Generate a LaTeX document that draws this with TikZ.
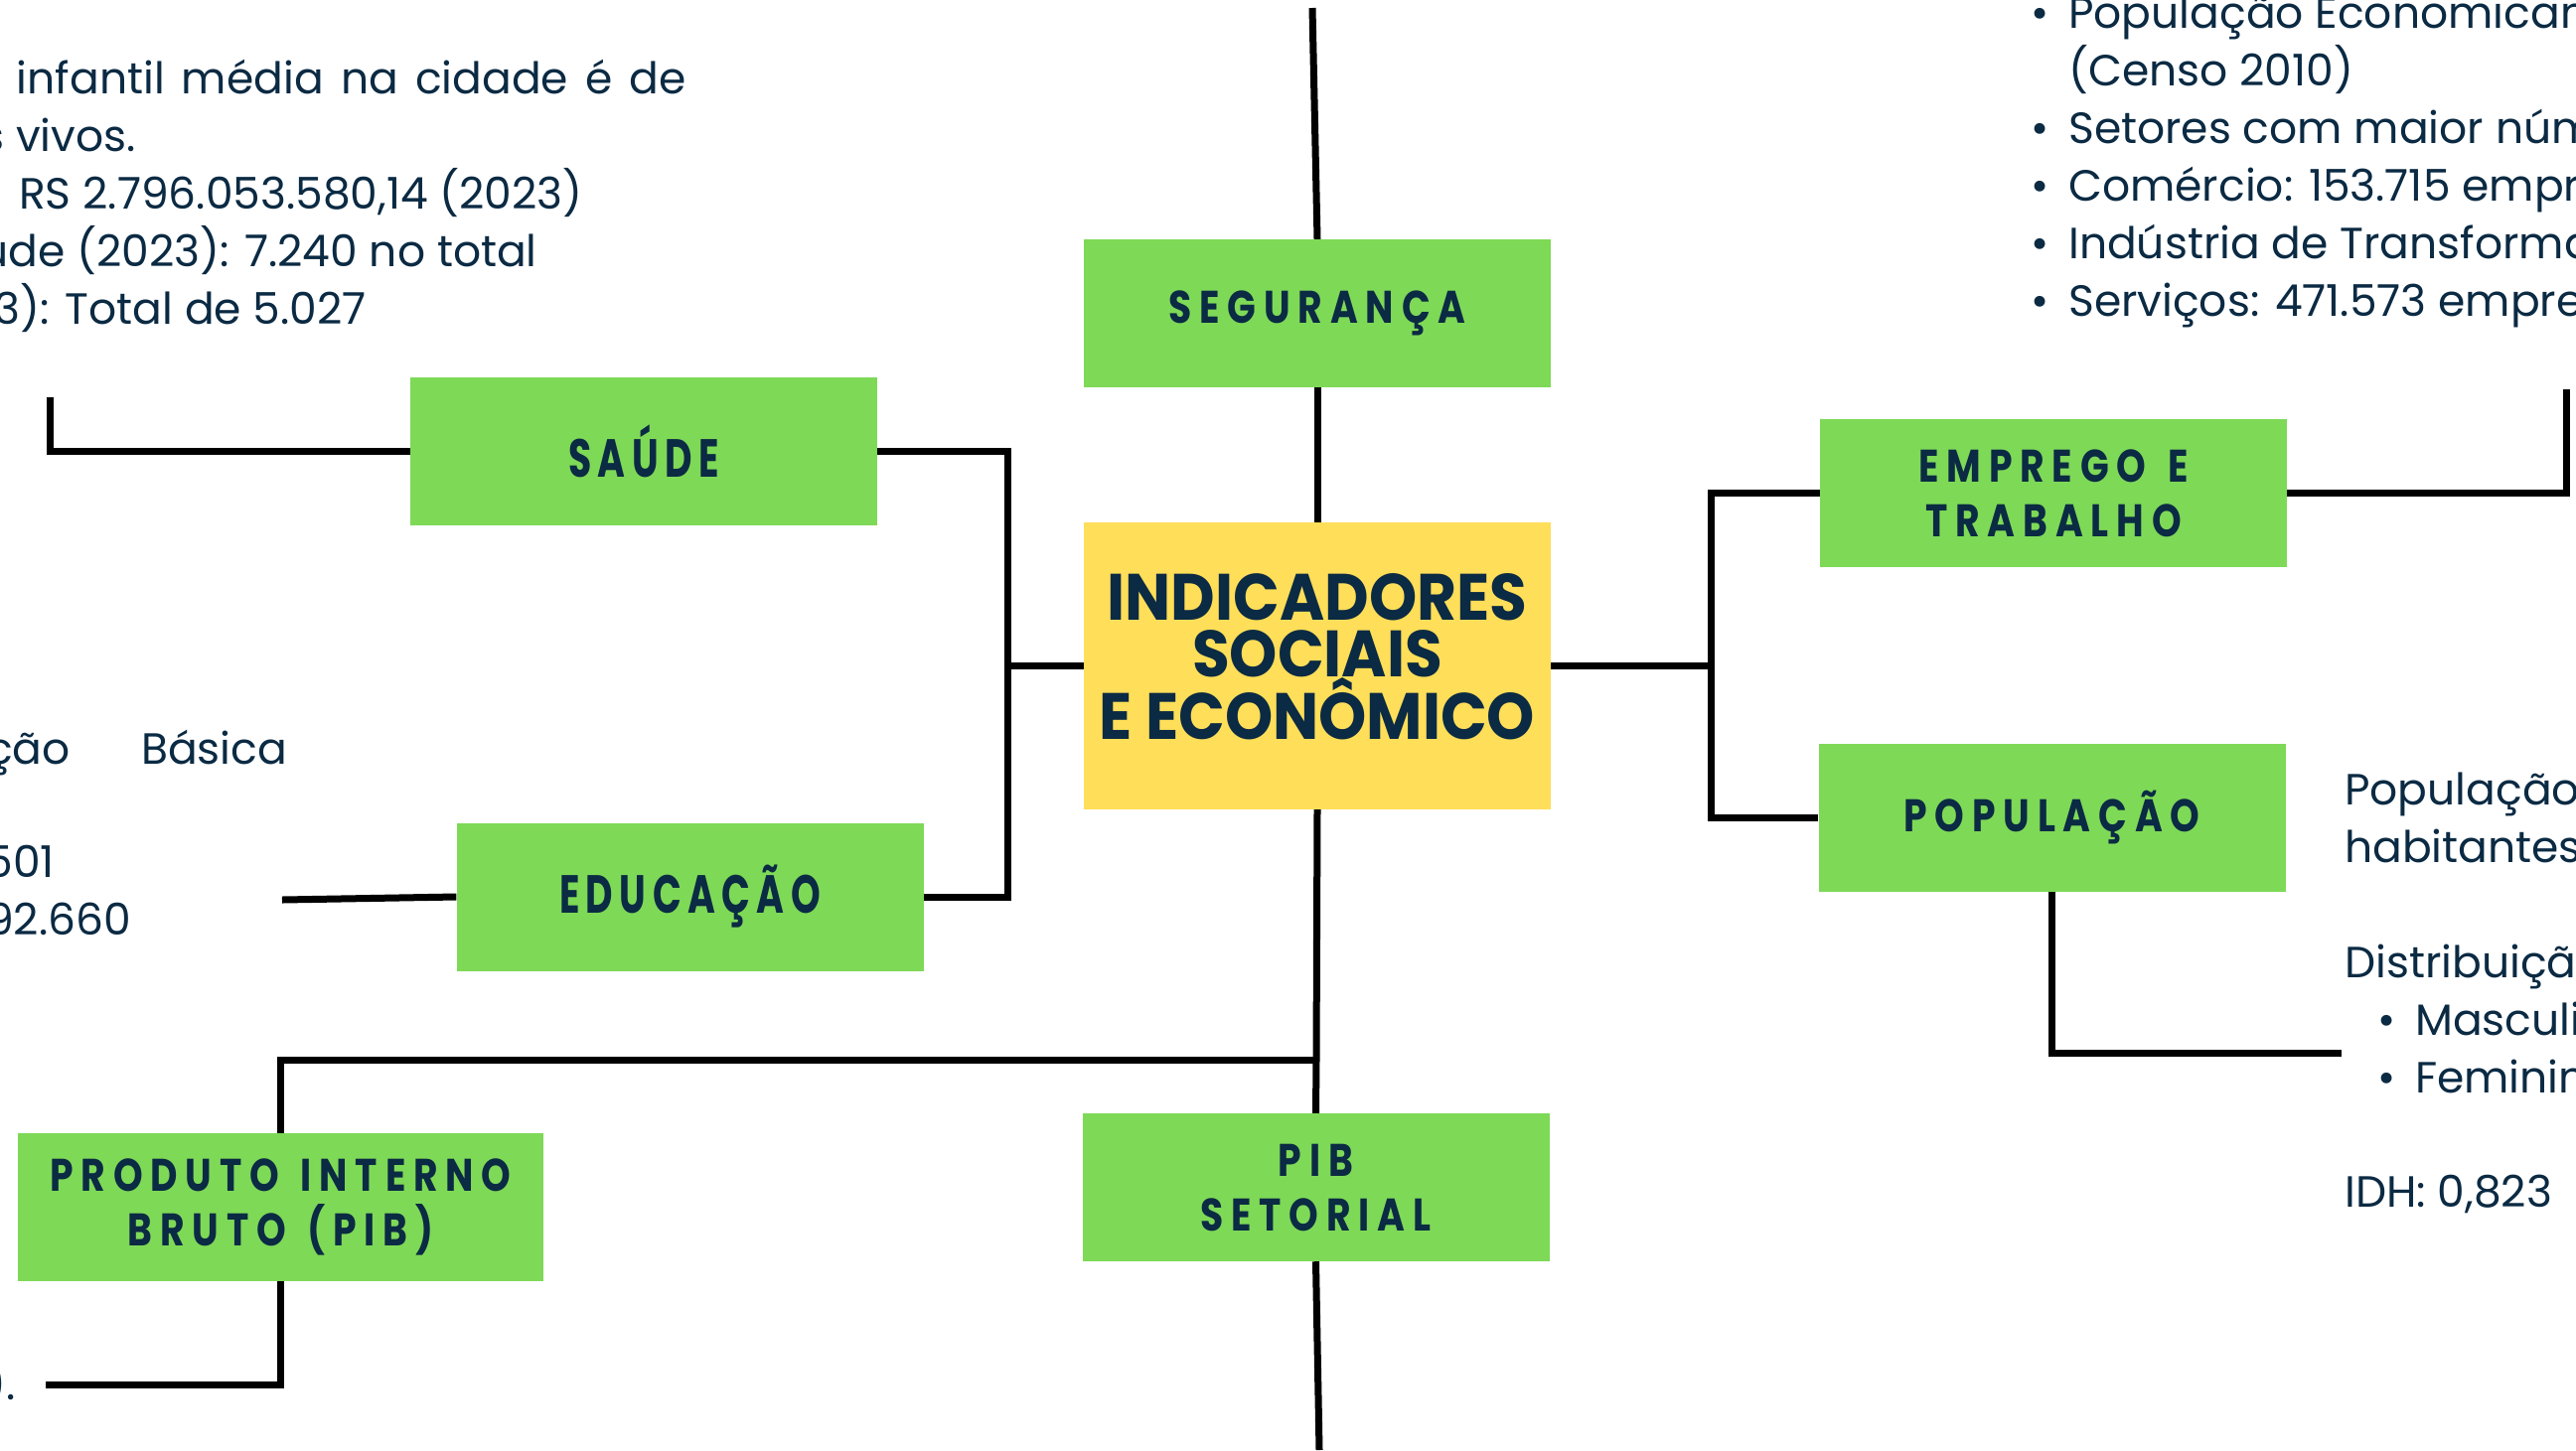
\documentclass[tikz,border=0pt]{standalone}
\usepackage{fontspec}
\setmainfont{Poppins}
\newfontfamily\labfont[FakeStretch=0.82,LetterSpace=17]{Poppins}
\newfontfamily\condfont[FakeStretch=0.7,LetterSpace=12]{Poppins}
\newfontfamily\titfont[FakeStretch=0.93]{Poppins}
\definecolor{navy}{HTML}{0B2A43}
\definecolor{grn}{HTML}{7ED957}
\definecolor{yel}{HTML}{FFDE59}
\newcommand\bul[1]{\makebox[38pt][l]{•}#1}
\newcommand\wsp{\ \hspace{6pt}}
\tikzset{
  box/.style={fill=grn, draw=none, minimum width=470pt, minimum height=149pt, inner sep=0pt,
    text=navy, font=\labfont\bfseries\fontsize{46}{55}\selectfont, align=center},
  condbox/.style={box, font=\condfont\bfseries\fontsize{54}{55}\selectfont},
  titletext/.style={text=navy, inner sep=0pt, align=center,
    font=\titfont\bfseries\fontsize{66}{57}\selectfont},
  conn/.style={line width=7pt, black},
  body/.style={text=navy, inner sep=0pt, font=\fontsize{44}{58}\selectfont},
}
\begin{document}
\begin{tikzpicture}[x=1pt,y=-1pt]
\useasboundingbox (0,0) rectangle (2593,1460);
\fill[white] (0,0) rectangle (2593,1460);
% boxes
\node[box] (seg) at (1326,315.5) {SEGURANÇA};
\node[box, fill=yel, minimum height=289pt] (ctr) at (1326,670.5) {};
\node[titletext] (tit) at (1326,661) {INDICADORES\\SOCIAIS\\E ECONÔMICO};
\node[box] (pibs) at (1324.5,1195.5) {PIB\\SETORIAL};
\node[box, minimum width=529pt] (pib) at (282.5,1215.5) {PRODUTO\wsp INTERNO\\BRUTO\wsp (PIB)};
\node[condbox] (sau) at (648,454.5) {SAÚDE};
\node[condbox] (edu) at (694.5,903) {EDUCAÇÃO};
\node[box] (emp) at (2067,496.5) {EMPREGO\wsp E\\TRABALHO};
\node[box] (pop) at (2065.5,823.5) {POPULAÇÃO};
% free ends and junctions
\coordinate (topend) at (1321,8);
\coordinate (jB) at (1325,1067);
\coordinate (botend) at (1328,1460);
\coordinate (pibend) at (46,1394);
\coordinate (jL) at (1014,670.5);
\coordinate (sauend) at (50,400);
\coordinate (eduend) at (284,906);
\coordinate (jR) at (1722,670.5);
\coordinate (empend) at (2583,392);
\coordinate (popend) at (2357,1060);
% connectors
\draw[conn] (topend) -- (seg.north);
\draw[conn] (seg.south) -- (ctr.north);
\draw[conn] (ctr.south) -- (jB) -- (pibs.north);
\draw[conn] (jB) -| (pib.north);
\draw[conn] (pibs.south) -- (botend);
\draw[conn] (pib.south) |- (pibend);
\draw[conn] (sau.east) -| (jL) |- (edu.east);
\draw[conn] (jL) -- (ctr.west);
\draw[conn] (sau.west) -| (sauend);
\draw[conn] (edu.west) -- (eduend);
\draw[conn] (ctr.east) -- (jR);
\draw[conn] (emp.west) -| (jR) |- (pop.west);
\draw[conn] (emp.east) -| (empend);
\draw[conn] (pop.south) |- (popend);
% top-left text
\node[body, anchor=base east] (tl1) at (691,94) {\makebox[674pt][s]{infantil média na cidade é de}};
\node[body, anchor=base east] (tl2) at (137,152) {s vivos.};
\node[body, anchor=base east] (tl3) at (587,210) {RS 2.796.053.580,14 (2023)};
\node[body, anchor=base east] (tl4) at (541,268) {úde (2023): 7.240 no total};
\node[body, anchor=base east] (tl5) at (369,326) {3): Total de 5.027};
% left middle text
\node[body, anchor=base east] (lm1) at (71,769) {ção};
\node[body, anchor=base west] (lm2) at (142,769) {Básica};
\node[body, anchor=base east] (lm3) at (55,883) {501};
\node[body, anchor=base east] (lm4) at (132,941) {92.660};
\node[body, anchor=base east] (bl1) at (16,1409) {).};
% top-right text
\node[body, anchor=base west] (tr1) at (2044,28) {\bul{População Economicamente}};
\node[body, anchor=base west] (tr2) at (2082,86) {(Censo 2010)};
\node[body, anchor=base west] (tr3) at (2044,144) {\bul{Setores com maior número}};
\node[body, anchor=base west] (tr4) at (2044,202) {\bul{Comércio: 153.715 empregos}};
\node[body, anchor=base west] (tr5) at (2044,260) {\bul{Indústria de Transformação}};
\node[body, anchor=base west] (tr6) at (2044,318) {\bul{Serviços: 471.573 empregos}};
% right middle text
\node[body, anchor=base west] (rm1) at (2360,810) {População};
\node[body, anchor=base west] (rm2) at (2360,868) {habitantes};
\node[body, anchor=base west] (rm3) at (2360,984) {Distribuição};
\node[body, anchor=base west] (rm4) at (2393,1042) {\bul{Masculino}};
\node[body, anchor=base west] (rm5) at (2393,1100) {\bul{Feminino}};
\node[body, anchor=base west] (rm6) at (2360,1215) {IDH: 0,823};
\end{tikzpicture}
\end{document}
